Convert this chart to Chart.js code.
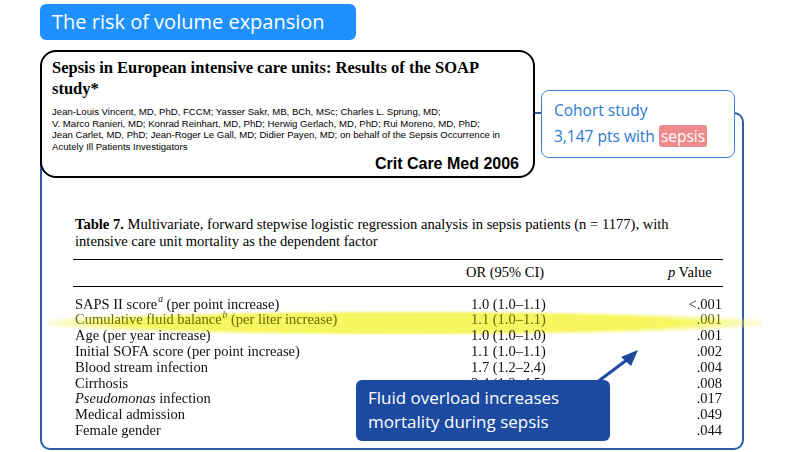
<!DOCTYPE html>
<html>
<head>
<meta charset="utf-8">
<script src="https://cdn.jsdelivr.net/npm/chart.js@4.4.1/dist/chart.umd.min.js"></script>
<style>
  body { margin: 0; width: 806px; height: 452px; background: #fff; position: relative; overflow: hidden; font-family: "Liberation Serif", serif; }
  .abs { position: absolute; }
  #title { left: 40px; top: 4px; width: 316px; height: 36px; background: #1e90ff; border-radius: 6px; color: #fff; font: 20px "Open Sans", sans-serif; line-height: 36px; padding-left: 12px; box-sizing: border-box; }
  #frame { left: 40px; top: 112px; width: 704px; height: 338px; border: 2px solid #2c5ea8; border-radius: 10px; box-sizing: border-box; }
  #paper { left: 40px; top: 50px; width: 495px; height: 128px; border: 2px solid #000; border-radius: 16px; background: #fff; box-sizing: border-box; padding: 5px 10px; }
  #paper h1 { margin: 0; font: bold 16.5px "Liberation Serif", serif; line-height: 21px; }
  #paper p { margin: 7px 0 0; font: 9.6px "Liberation Sans", sans-serif; line-height: 11.5px; }
  #journal { right: 14px; bottom: 3px; font: bold 16px "Liberation Sans", sans-serif; }
  #cohort { left: 541px; top: 90px; width: 194px; height: 68px; border: 1.5px solid #3a86d6; border-radius: 8px; background: #fff; color: #2a7ad0; font: 15.5px "Open Sans", sans-serif; line-height: 26px; padding: 6px 0 0 12px; box-sizing: border-box; }
  #cohort span { background: #f08a8a; color: #fff; border-radius: 3px; padding: 0 2px; }
  #caption { left: 75px; top: 216px; width: 652px; font-size: 14.6px; line-height: 17px; }
  .rule { left: 73px; width: 650px; border-top: 1px solid #000; }
  .hdr { top: 264px; font-size: 14.5px; }
  #glow { left: 48px; top: 311px; width: 714px; height: 24px; background: radial-gradient(ellipse at center, rgba(245,245,80,0.9) 55%, rgba(255,255,160,0) 75%); }
  #callout { left: 356px; top: 380px; width: 254px; height: 61px; background: #1b4aa0; border-radius: 6px; color: #fff; font: 17px "Open Sans", sans-serif; line-height: 24px; padding: 6px 0 0 12px; box-sizing: border-box; }
</style>
</head>
<body>
<div id="frame" class="abs"></div>
<div id="title" class="abs">The risk of volume expansion</div>
<div id="paper" class="abs">
  <h1>Sepsis in European intensive care units: Results of the SOAP study*</h1>
  <p>Jean-Louis Vincent, MD, PhD, FCCM; Yasser Sakr, MB, BCh, MSc; Charles L. Sprung, MD;<br>
  V. Marco Ranieri, MD; Konrad Reinhart, MD, PhD; Herwig Gerlach, MD, PhD; Rui Moreno, MD, PhD;<br>
  Jean Carlet, MD, PhD; Jean-Roger Le Gall, MD; Didier Payen, MD; on behalf of the Sepsis Occurrence in<br>
  Acutely Ill Patients Investigators</p>
  <div id="journal" class="abs">Crit Care Med 2006</div>
</div>
<div id="cohort" class="abs">Cohort study<br>3,147 pts with <span>sepsis</span></div>
<div id="caption" class="abs"><b>Table 7.</b> Multivariate, forward stepwise logistic regression analysis in sepsis patients (n = 1177), with<br>intensive care unit mortality as the dependent factor</div>
<div class="abs rule" style="top:259px"></div>
<div class="abs hdr" style="left:466px">OR (95% CI)</div>
<div class="abs hdr" style="left:668px"><i>p</i> Value</div>
<div class="abs rule" style="top:286px"></div>
<div id="glow" class="abs"></div>
<canvas id="table" class="abs" style="left:40px;top:297px;width:700px;height:142px"></canvas>
<svg class="abs" style="left:0;top:0" width="806" height="452">
  <line x1="596" y1="383" x2="632" y2="356" stroke="#1b4aa0" stroke-width="3"/>
  <polygon points="638,350 621,357 631,366" fill="#1b4aa0"/>
</svg>
<div id="callout" class="abs">Fluid overload increases<br>mortality during sepsis</div>
<script>
// Table rows: name = [text, superscript, rest, italic-first]
const variables = [
  ["SAPS II score", "a", " (per point increase)", false],
  ["Cumulative fluid balance", "b", " (per liter increase)", false],
  ["Age (per year increase)", "", "", false],
  ["Initial SOFA score (per point increase)", "", "", false],
  ["Blood stream infection", "", "", false],
  ["Cirrhosis", "", "", false],
  ["Pseudomonas", "", " infection", true],
  ["Medical admission", "", "", false],
  ["Female gender", "", "", false],
];
const orValues = ["1.0 (1.0\u20131.1)", "1.1 (1.0\u20131.1)", "1.0 (1.0\u20131.0)", "1.1 (1.0\u20131.1)",
  "1.7 (1.2\u20132.4)", "2.4 (1.2\u20134.5)", "1.9 (1.1\u20133.2)", "1.4 (1.0\u20131.9)", "1.3 (1.0\u20131.7)"];
const pValues = ["<.001", ".001", ".001", ".002", ".004", ".008", ".017", ".049", ".044"];
// column anchors on the x scale: name (left), OR (center), p value (right)
const columns = [0, 0.67, 1];
const fluidColor = "#6b6b00";
const rowFont = "14.5px 'Liberation Serif'";

const tableText = {
  id: "tableText",
  afterDraw(chart) {
    const ctx = chart.ctx;
    const y = chart.scales.y;
    const x = chart.scales.x;
    ctx.save();
    ctx.textBaseline = "middle";
    variables.forEach((v, i) => {
      const py = y.getPixelForValue(i);
      ctx.fillStyle = i === 1 ? fluidColor : "#111";
      let px = x.getPixelForValue(columns[0]);
      ctx.font = (v[3] ? "italic " : "") + rowFont;
      ctx.textAlign = "left";
      ctx.fillText(v[0], px, py);
      px += ctx.measureText(v[0]).width;
      if (v[1]) {
        ctx.font = "italic 9.5px 'Liberation Serif'";
        ctx.fillText(v[1], px + 1, py - 5);
        px += ctx.measureText(v[1]).width + 1;
      }
      ctx.font = rowFont;
      ctx.fillText(v[2], px, py);
      ctx.textAlign = "center";
      ctx.fillText(orValues[i], x.getPixelForValue(columns[1]), py);
      ctx.textAlign = "right";
      ctx.fillText(pValues[i], x.getPixelForValue(columns[2]), py);
    });
    ctx.restore();
  }
};

new Chart(document.getElementById("table"), {
  type: "scatter",
  data: { labels: variables.map(v => v[0]), datasets: [{ data: [] }] },
  options: {
    responsive: false,
    animation: false,
    layout: { padding: { left: 35, right: 18, top: 0, bottom: 0 } },
    plugins: { legend: { display: false }, tooltip: { enabled: false } },
    scales: {
      x: { type: "linear", min: 0, max: 1, display: false },
      y: { type: "category", labels: variables.map(v => v[0]), offset: true, display: false },
    },
  },
  plugins: [tableText],
});
</script>
</body>
</html>
